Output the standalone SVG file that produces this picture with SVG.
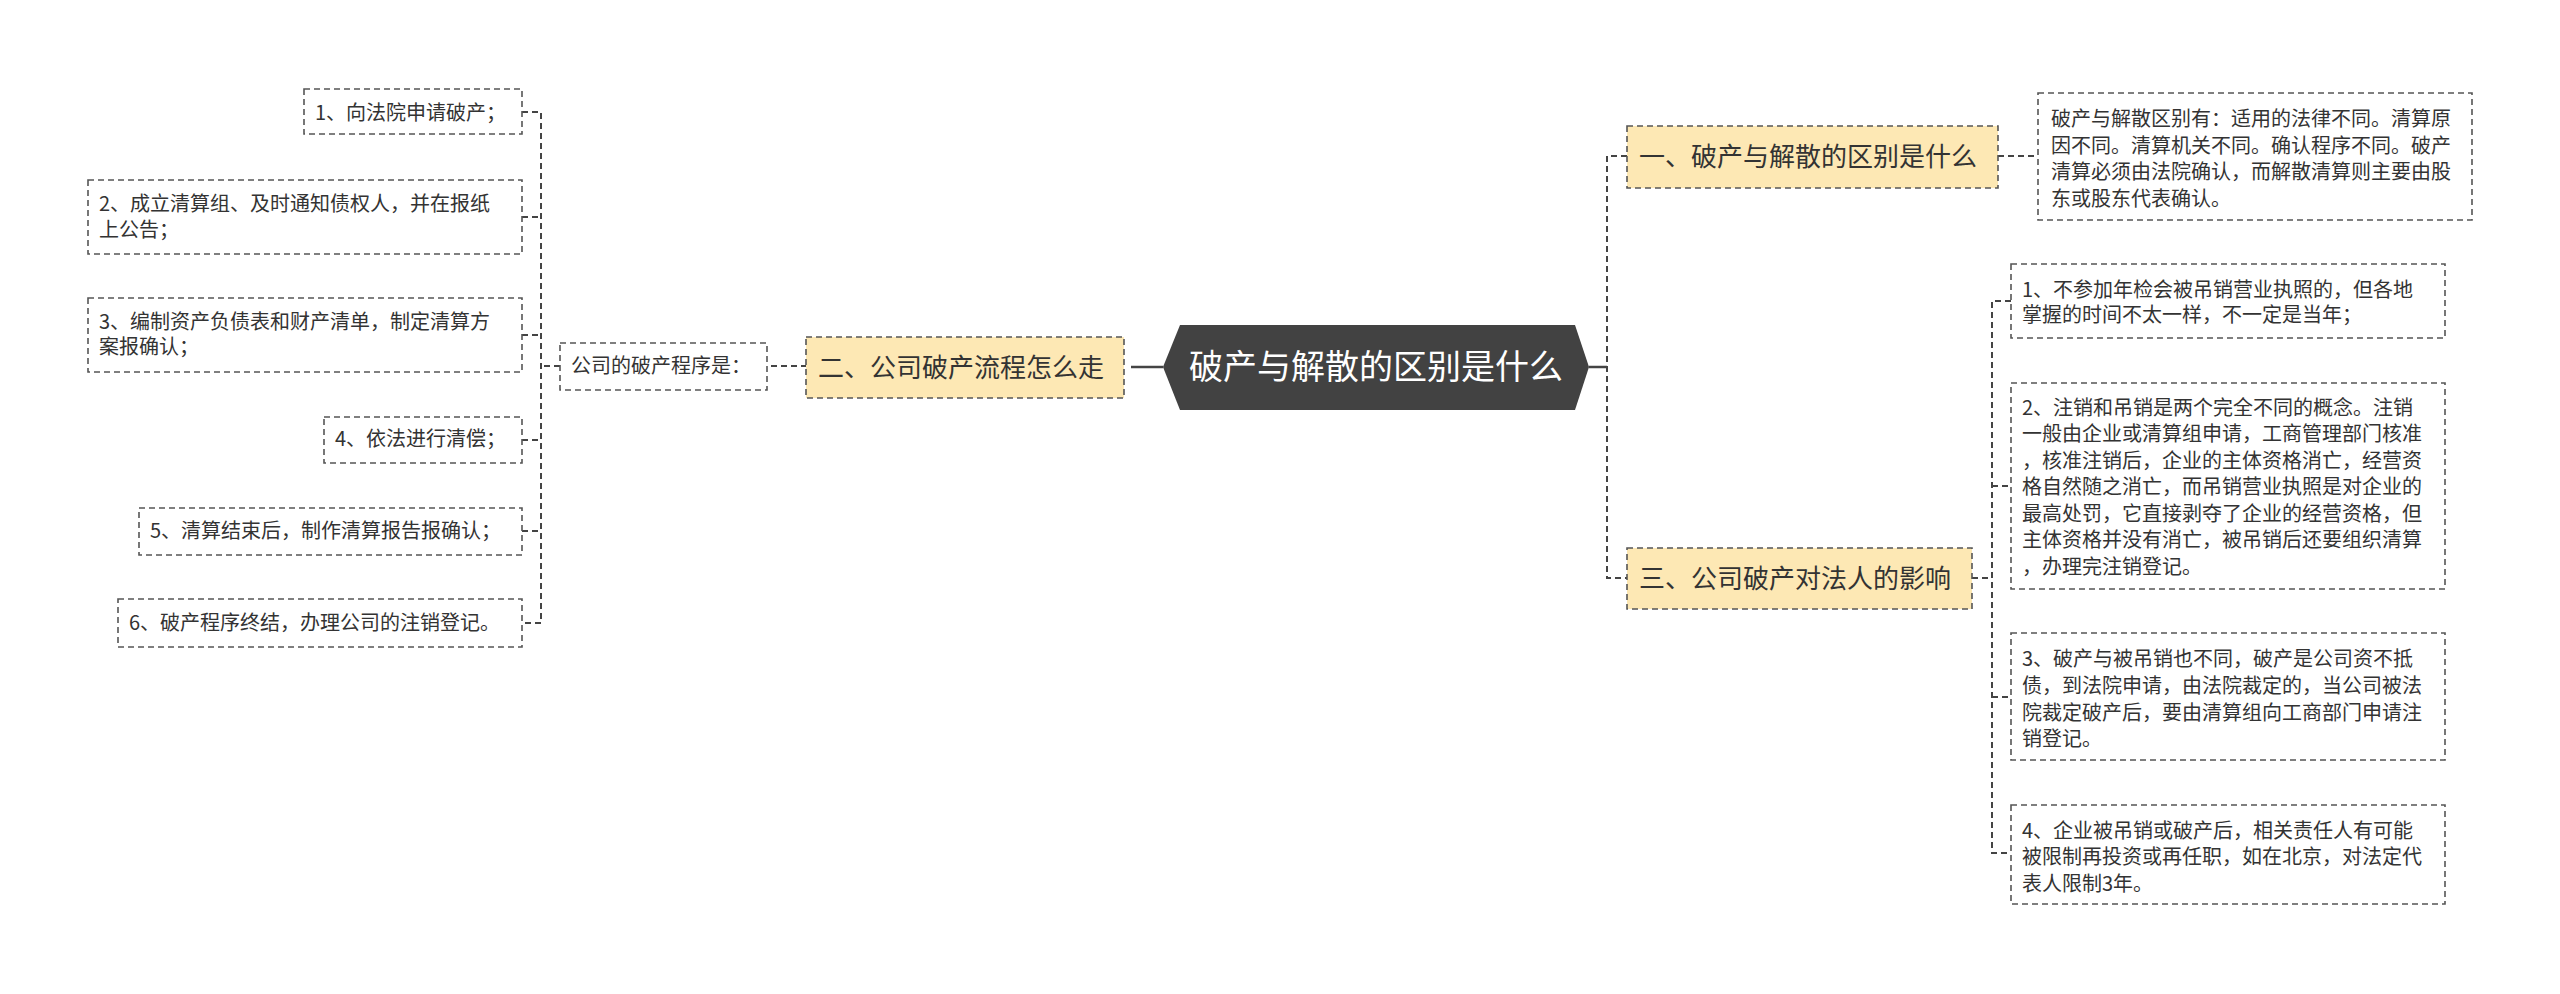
<svg xmlns="http://www.w3.org/2000/svg" width="2560" height="994" viewBox="0 0 2560 994">
<style>
text{font-family:"Noto Sans CJK SC","Noto Sans",sans-serif;fill:#333}
.leaf{fill:#fff;stroke:#555;stroke-width:1.6;stroke-dasharray:6,4}
.br{fill:#fde8b4;stroke:#555;stroke-width:1.6;stroke-dasharray:6,4}
.s{font-size:20px}
.b{font-size:26px}
.c{stroke:#444;stroke-width:2;fill:none;stroke-dasharray:6,4}
.sol{stroke:#444;stroke-width:2.5;fill:none}
</style>
<rect width="2560" height="994" fill="#fff"/>
<g id="connectors">
<line class="sol" x1="1131" y1="367" x2="1163" y2="367"/>
<line class="sol" x1="1589" y1="367" x2="1607" y2="367"/>
<path class="c" d="M1627 156 H1607 V578 H1627"/>
<line class="c" x1="1998" y1="156" x2="2038" y2="156"/>
<path class="c" d="M1972 578 H1992 M2011 301 H1992 V853 H2011 M1992 486 H2011 M1992 697 H2011"/>
<line class="c" x1="771" y1="366" x2="806" y2="366"/>
<path class="c" d="M560 366 H541 M522 112 H541 V623 H522 M522 217 H541 M522 335 H541 M522 440 H541 M522 531 H541"/>
</g>
<g id="center">
<polygon points="1180,325 1575,325 1589,367 1575,410 1180,410 1163,367" fill="#424242"/>
<text x="1376" y="379" text-anchor="middle" style="font-size:34px;fill:#fff">破产与解散的区别是什么</text>
</g>
<g id="b1"><rect class="br" x="1627" y="126" width="371" height="62"/><text class="b" x="1639" y="166">一、破产与解散的区别是什么</text></g>
<g id="b1c"><rect class="leaf" x="2038" y="93" width="434" height="127"/>
<text class="s" x="2051"><tspan x="2051" y="126">破产与解散区别有：适用的法律不同。清算原</tspan><tspan x="2051" y="153">因不同。清算机关不同。确认程序不同。破产</tspan><tspan x="2051" y="179">清算必须由法院确认，而解散清算则主要由股</tspan><tspan x="2051" y="206">东或股东代表确认。</tspan></text></g>
<g id="b3"><rect class="br" x="1627" y="548" width="345" height="61"/><text class="b" x="1639" y="588">三、公司破产对法人的影响</text></g>
<g id="r1"><rect class="leaf" x="2011" y="264" width="434" height="74"/>
<text class="s"><tspan x="2022" y="297">1、不参加年检会被吊销营业执照的，但各地</tspan><tspan x="2022" y="322">掌握的时间不太一样，不一定是当年；</tspan></text></g>
<g id="r2"><rect class="leaf" x="2011" y="383" width="434" height="206"/>
<text class="s"><tspan x="2022" y="415">2、注销和吊销是两个完全不同的概念。注销</tspan><tspan x="2022" y="441">一般由企业或清算组申请，工商管理部门核准</tspan><tspan x="2022" y="468">，核准注销后，企业的主体资格消亡，经营资</tspan><tspan x="2022" y="494">格自然随之消亡，而吊销营业执照是对企业的</tspan><tspan x="2022" y="521">最高处罚，它直接剥夺了企业的经营资格，但</tspan><tspan x="2022" y="547">主体资格并没有消亡，被吊销后还要组织清算</tspan><tspan x="2022" y="574">，办理完注销登记。</tspan></text></g>
<g id="r3"><rect class="leaf" x="2011" y="633" width="434" height="127"/>
<text class="s"><tspan x="2022" y="666">3、破产与被吊销也不同，破产是公司资不抵</tspan><tspan x="2022" y="693">债，到法院申请，由法院裁定的，当公司被法</tspan><tspan x="2022" y="720">院裁定破产后，要由清算组向工商部门申请注</tspan><tspan x="2022" y="746">销登记。</tspan></text></g>
<g id="r4"><rect class="leaf" x="2011" y="805" width="434" height="99"/>
<text class="s"><tspan x="2022" y="838">4、企业被吊销或破产后，相关责任人有可能</tspan><tspan x="2022" y="864">被限制再投资或再任职，如在北京，对法定代</tspan><tspan x="2022" y="891">表人限制3年。</tspan></text></g>
<g id="b2"><rect class="br" x="806" y="337" width="318" height="61"/><text class="b" x="818" y="377">二、公司破产流程怎么走</text></g>
<g id="b2c"><rect class="leaf" x="560" y="343" width="207" height="47"/><text class="s" x="571" y="373">公司的破产程序是：</text></g>
<g id="l1"><rect class="leaf" x="304" y="89" width="218" height="45"/><text class="s" x="315" y="120">1、向法院申请破产；</text></g>
<g id="l2"><rect class="leaf" x="88" y="180" width="434" height="74"/><text class="s"><tspan x="99" y="211">2、成立清算组、及时通知债权人，并在报纸</tspan><tspan x="99" y="237">上公告；</tspan></text></g>
<g id="l3"><rect class="leaf" x="88" y="298" width="434" height="74"/><text class="s"><tspan x="99" y="329">3、编制资产负债表和财产清单，制定清算方</tspan><tspan x="99" y="354">案报确认；</tspan></text></g>
<g id="l4"><rect class="leaf" x="324" y="417" width="198" height="46"/><text class="s" x="335" y="446">4、依法进行清偿；</text></g>
<g id="l5"><rect class="leaf" x="139" y="508" width="383" height="47"/><text class="s" x="150" y="538">5、清算结束后，制作清算报告报确认；</text></g>
<g id="l6"><rect class="leaf" x="118" y="599" width="404" height="48"/><text class="s" x="129" y="630">6、破产程序终结，办理公司的注销登记。</text></g>
</svg>
